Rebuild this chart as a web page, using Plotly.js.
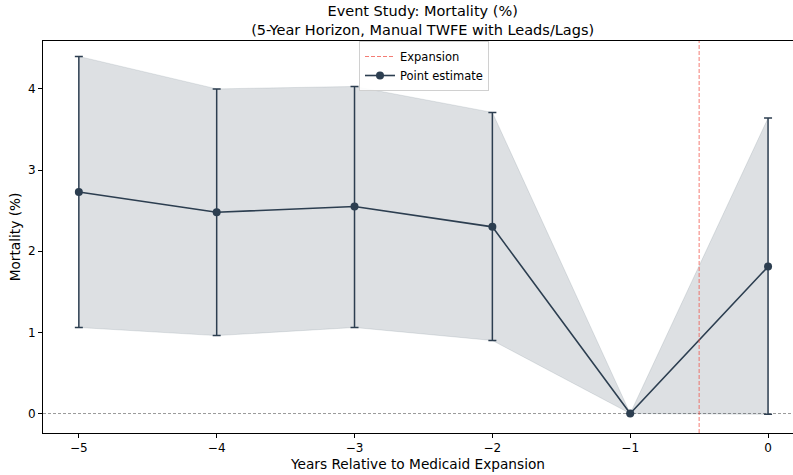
<!DOCTYPE html>
<html>
<head>
<meta charset="utf-8">
<script src="https://cdn.plot.ly/plotly-3.0.1.min.js"></script>
<style>html,body{margin:0;padding:0;background:#fff;}#chart{width:793px;height:475px;}</style>
</head>
<body>
<div id="chart"></div>
<script>
const relYears = [-5, -4, -3, -2, -1, 0];
const estimate = [2.73, 2.48, 2.55, 2.30, 0.00, 1.81];
const ciUpper = [4.40, 4.00, 4.03, 3.71, 0.00, 3.64];
const ciLower = [1.06, 0.96, 1.06, 0.90, 0.00, -0.01];
const expansionX = -0.5;
const xTicks = [-5, -4, -3, -2, -1, 0];
const xTickLabels = ['\u22125', '\u22124', '\u22123', '\u22122', '\u22121', '0'];
const yTicks = [0, 1, 2, 3, 4];

const navy = '#2c3e50';
const font = 'DejaVu Sans, sans-serif';

const traces = [
  {x: relYears, y: ciLower, mode: 'lines', line: {color: 'rgba(44,62,80,0.12)', width: 1}, showlegend: false, hoverinfo: 'skip'},
  {x: relYears, y: ciUpper, mode: 'lines', fill: 'tonexty', fillcolor: 'rgba(44,62,80,0.16)', line: {color: 'rgba(44,62,80,0.12)', width: 1}, showlegend: false, hoverinfo: 'skip'},
  {x: [null], y: [null], mode: 'lines', name: 'Expansion', line: {color: 'rgba(240,80,70,0.75)', width: 1, dash: '4px,2px'}},
  {x: relYears, y: estimate, mode: 'lines+markers', name: 'Point estimate',
   line: {color: navy, width: 1.6}, marker: {color: navy, size: 8},
   error_y: {type: 'data', symmetric: false,
     array: estimate.map((v, i) => ciUpper[i] - v),
     arrayminus: estimate.map((v, i) => v - ciLower[i]),
     color: navy, thickness: 1.5, width: 4}}
];

const layout = {
  width: 793, height: 475,
  margin: {l: 43, r: 0, t: 41, b: 42},
  paper_bgcolor: '#fff', plot_bgcolor: '#fff',
  font: {family: font, color: '#000', size: 12},
  title: {text: 'Event Study: Mortality (%)<br>(5-Year Horizon, Manual TWFE with Leads/Lags)',
    font: {family: font, size: 14.5, color: '#000'}, x: 0.533, xref: 'container', xanchor: 'center',
    y: 0.966, yref: 'container', yanchor: 'middle'},
  xaxis: {range: [-5.26, 0.181], tickvals: xTicks, ticktext: xTickLabels, showgrid: false, zeroline: false,
    showline: true, linecolor: '#000', linewidth: 1, mirror: true, ticks: 'outside', ticklen: 4, tickcolor: '#000',
    tickfont: {size: 12}, title: {text: 'Years Relative to Medicaid Expansion', font: {size: 13.7}, standoff: 5}},
  yaxis: {range: [-0.24, 4.59], tickvals: yTicks, showgrid: false, zeroline: false,
    showline: true, linecolor: '#000', linewidth: 1, ticks: 'outside', ticklen: 4, tickcolor: '#000',
    tickfont: {size: 12}, title: {text: 'Mortality (%)', font: {size: 13.7}, standoff: 4}},
  shapes: [
    {type: 'line', xref: 'paper', x0: 0, x1: 1, yref: 'y', y0: 0, y1: 0, line: {color: 'rgba(128,128,128,0.8)', width: 1, dash: '3px,2px'}, layer: 'below'},
    {type: 'line', xref: 'x', x0: expansionX, x1: expansionX, yref: 'paper', y0: 0, y1: 1, line: {color: 'rgba(240,80,70,0.75)', width: 1, dash: '4px,2px'}}
  ],
  legend: {x: 0.508, xanchor: 'center', y: 1.0, yanchor: 'top', bgcolor: 'rgba(255,255,255,0.9)',
    bordercolor: '#d0d0d0', borderwidth: 1, font: {size: 11.5}, tracegroupgap: 0, traceorder: 'normal'},
  showlegend: true
};

Plotly.newPlot('chart', traces, layout, {staticPlot: true, displayModeBar: false});
</script>
</body>
</html>
